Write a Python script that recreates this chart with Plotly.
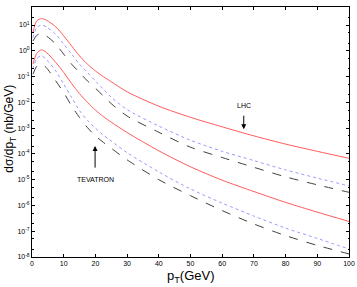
import plotly.graph_objects as go

pt = [0.3, 1.5, 3, 4.5, 7.5, 10, 12.5, 15, 17.5, 20, 22.5, 25, 30, 40, 50, 60, 70, 80, 90, 100]

# log10(dsigma/dpT)
lhc_solid = [0.71, 1.16, 1.25, 1.19, 0.93, 0.58, 0.19, -0.20, -0.52, -0.78, -1.0, -1.2, -1.59,
             -2.15, -2.58, -2.95, -3.3, -3.62, -3.9, -4.17]
lhc_dotted = [0.51, 0.9, 1.0, 0.93, 0.64, 0.26, -0.13, -0.52, -0.84, -1.17, -1.49, -1.8, -2.28,
              -2.92, -3.47, -3.9, -4.26, -4.62, -4.94, -5.24]
lhc_dashed = [0.38, 0.6, 0.67, 0.58, 0.26, -0.13, -0.52, -0.84, -1.17, -1.45, -1.75, -2.05, -2.53,
              -3.16, -3.74, -4.14, -4.52, -4.89, -5.2, -5.49]
tev_solid = [-0.52, -0.1, 0.04, -0.06, -0.45, -0.84, -1.27, -1.66, -2.0, -2.3, -2.55, -2.77, -3.17,
             -3.88, -4.5, -5.02, -5.46, -5.88, -6.26, -6.62]
tev_dotted = [-0.71, -0.3, -0.2, -0.33, -0.78, -1.29, -1.81, -2.32, -2.7, -3.0, -3.27, -3.5, -3.95,
              -4.7, -5.36, -5.91, -6.41, -6.88, -7.28, -7.69]
tev_dashed = [-0.91, -0.6, -0.52, -0.65, -1.17, -1.62, -2.14, -2.59, -2.98, -3.3, -3.55, -3.78, -4.23,
              -5.0, -5.62, -6.2, -6.72, -7.17, -7.55, -7.88]

y_exponents = [-8, -7, -6, -5, -4, -3, -2, -1, 0, 1]
y_ticktext = ["10<sup>%d</sup>" % e for e in y_exponents]
x_ticks = [0, 10, 20, 30, 40, 50, 60, 70, 80, 90, 100]

series = [
    (lhc_solid, "#ff5a5a", "solid"),
    (lhc_dotted, "#9a9aff", "dot"),
    (lhc_dashed, "#404040", "dash"),
    (tev_solid, "#ff5a5a", "solid"),
    (tev_dotted, "#9a9aff", "dot"),
    (tev_dashed, "#404040", "dash"),
]

fig = go.Figure()
for vals, col, dash in series:
    fig.add_trace(go.Scatter(
        x=pt, y=[10 ** v for v in vals], mode="lines",
        line=dict(color=col, width=1, dash=dash, shape="spline", smoothing=0.8),
        showlegend=False, hoverinfo="skip"))

FONT = "Liberation Sans, Arial, sans-serif"

fig.update_layout(
    width=357, height=287,
    margin=dict(l=32, r=8, t=7, b=30),
    paper_bgcolor="white", plot_bgcolor="white",
    font=dict(family=FONT, color="black"),
)
fig.update_xaxes(
    range=[0, 100], tickvals=x_ticks, ticks="inside", ticklen=3, tickcolor="black",
    showline=True, linecolor="black", linewidth=1, mirror="allticks", automargin=False,
    showgrid=False, zeroline=False, tickfont=dict(size=7, family=FONT),
)
fig.update_yaxes(
    type="log", range=[-8, 1.7],
    tickvals=[10.0 ** e for e in y_exponents], ticktext=y_ticktext,
    ticks="inside", ticklen=3, tickcolor="black",
    minor=dict(ticks="inside", ticklen=1.5, tickcolor="black", showgrid=False),
    showline=True, linecolor="black", linewidth=1, mirror="allticks", automargin=False,
    showgrid=False, zeroline=False, tickfont=dict(size=7, family=FONT),
)

annotations = [
    dict(text="p<sub>T</sub>(GeV)", xref="paper", yref="paper", x=0.5, y=-0.078,
         xanchor="center", yanchor="middle", showarrow=False, font=dict(size=13)),
    dict(text="dσ/dp<sub>T</sub> (nb/GeV)", xref="paper", yref="paper", x=-0.068, y=0.515,
         xanchor="center", yanchor="middle", textangle=-90, showarrow=False, font=dict(size=12)),
    dict(text="LHC", x=66.8, y=-2.14, xref="x", yref="y", showarrow=False,
         font=dict(size=7), yanchor="middle"),
    dict(text="", x=66.8, y=-3.04, ax=66.8, ay=-2.46, xref="x", yref="y", axref="x", ayref="y",
         showarrow=True, arrowhead=2, arrowsize=1, arrowwidth=1, arrowcolor="black"),
    dict(text="TEVATRON", x=19.9, y=-4.98, xref="x", yref="y", showarrow=False,
         font=dict(size=7), yanchor="middle"),
    dict(text="", x=19.9, y=-3.69, ax=19.9, ay=-4.59, xref="x", yref="y", axref="x", ayref="y",
         showarrow=True, arrowhead=2, arrowsize=1, arrowwidth=1, arrowcolor="black"),
]
fig.update_layout(annotations=annotations)

fig.write_html(
    "out.html",
    config={"displayModeBar": False},
    post_script="document.body.style.margin='0';document.body.style.overflow='hidden';",
)
